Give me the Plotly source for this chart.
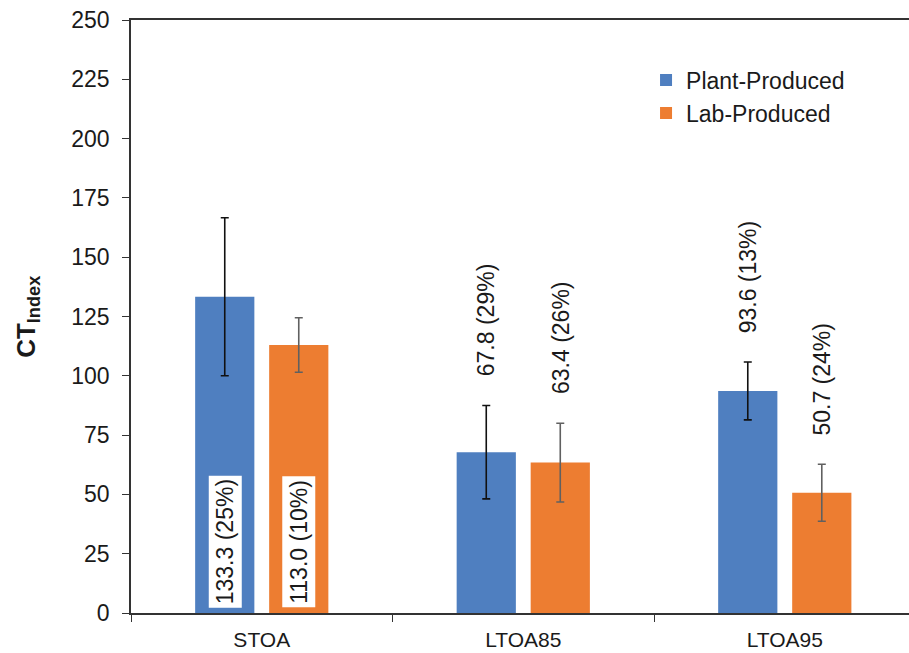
import plotly.graph_objects as go

categories = ["STOA", "LTOA85", "LTOA95"]
plant_mean = [133.3, 67.8, 93.6]
lab_mean = [113.0, 63.4, 50.7]
plant_sd = [33.3, 19.7, 12.2]
lab_sd = [11.5, 16.6, 12.0]
plant_cv = [25, 29, 13]
lab_cv = [10, 26, 24]
label_inside = [True, False, False]
y_ticks = [0, 25, 50, 75, 100, 125, 150, 175, 200, 225, 250]

BLUE = "#4F7FC0"
ORANGE = "#ED7D31"
FONT = "Liberation Sans, Arial, sans-serif"
TXT = "#1a1a1a"

fig = go.Figure()
fig.add_trace(go.Bar(
    name="Plant-Produced", x=categories, y=plant_mean, marker_color=BLUE,
    marker_line_width=0,
    error_y=dict(type="data", array=plant_sd, visible=True, color="#111111",
                 thickness=1.6, width=4),
))
fig.add_trace(go.Bar(
    name="Lab-Produced", x=categories, y=lab_mean, marker_color=ORANGE,
    marker_line_width=0,
    error_y=dict(type="data", array=lab_sd, visible=True, color="#606060",
                 thickness=1.6, width=4),
))

annotations = []
series = [(plant_mean, plant_sd, plant_cv, -37), (lab_mean, lab_sd, lab_cv, 37)]
for means, sds, cvs, xs in series:
    for i, cat in enumerate(categories):
        txt = f"{means[i]:.1f} ({cvs[i]}%)"
        if label_inside[i]:
            annotations.append(dict(
                x=cat, y=0, xref="x", yref="y", text=txt, showarrow=False,
                textangle=-90, yanchor="bottom", xanchor="center", xshift=xs,
                yshift=5, bgcolor="white", borderpad=3,
                font=dict(family=FONT, size=23, color=TXT)))
        else:
            annotations.append(dict(
                x=cat, y=means[i] + sds[i], xref="x", yref="y", text=txt,
                showarrow=False, textangle=-90, yanchor="bottom",
                xanchor="center", xshift=xs, yshift=27,
                font=dict(family=FONT, size=23, color=TXT)))

annotations.append(dict(
    xref="paper", yref="paper", x=-0.157, y=0.5, xanchor="left",
    yanchor="middle", textangle=-90, showarrow=False,
    text="<b>CT<sub>Index</sub></b>",
    font=dict(family=FONT, size=26, color=TXT)))

fig.update_layout(
    width=909, height=653,
    margin=dict(l=131, r=0, t=20, b=40),
    paper_bgcolor="white", plot_bgcolor="white",
    barmode="group", bargap=0.434, bargroupgap=0.2,
    font=dict(family=FONT, size=22, color=TXT),
    showlegend=True,
    legend=dict(x=0.662, y=0.935, xanchor="left", yanchor="top",
                bgcolor="rgba(0,0,0,0)", font=dict(size=23, color=TXT)),
    annotations=annotations,
)
fig.update_xaxes(
    range=[-0.5, 2.475], showline=True, linecolor="#333333", linewidth=1.5,
    mirror=True, ticks="outside", tickson="boundaries", ticklen=7,
    tickcolor="#333333", showgrid=False, tickfont=dict(size=21),
    ticklabelstandoff=7,
)
fig.update_yaxes(
    range=[0, 250], tickvals=y_ticks, showline=True, linecolor="#333333",
    linewidth=1.5, ticks="outside", ticklen=7, tickcolor="#333333",
    showgrid=False, zeroline=False, tickfont=dict(size=23),
    ticklabelstandoff=8,
)

fig.write_html("out.html")
